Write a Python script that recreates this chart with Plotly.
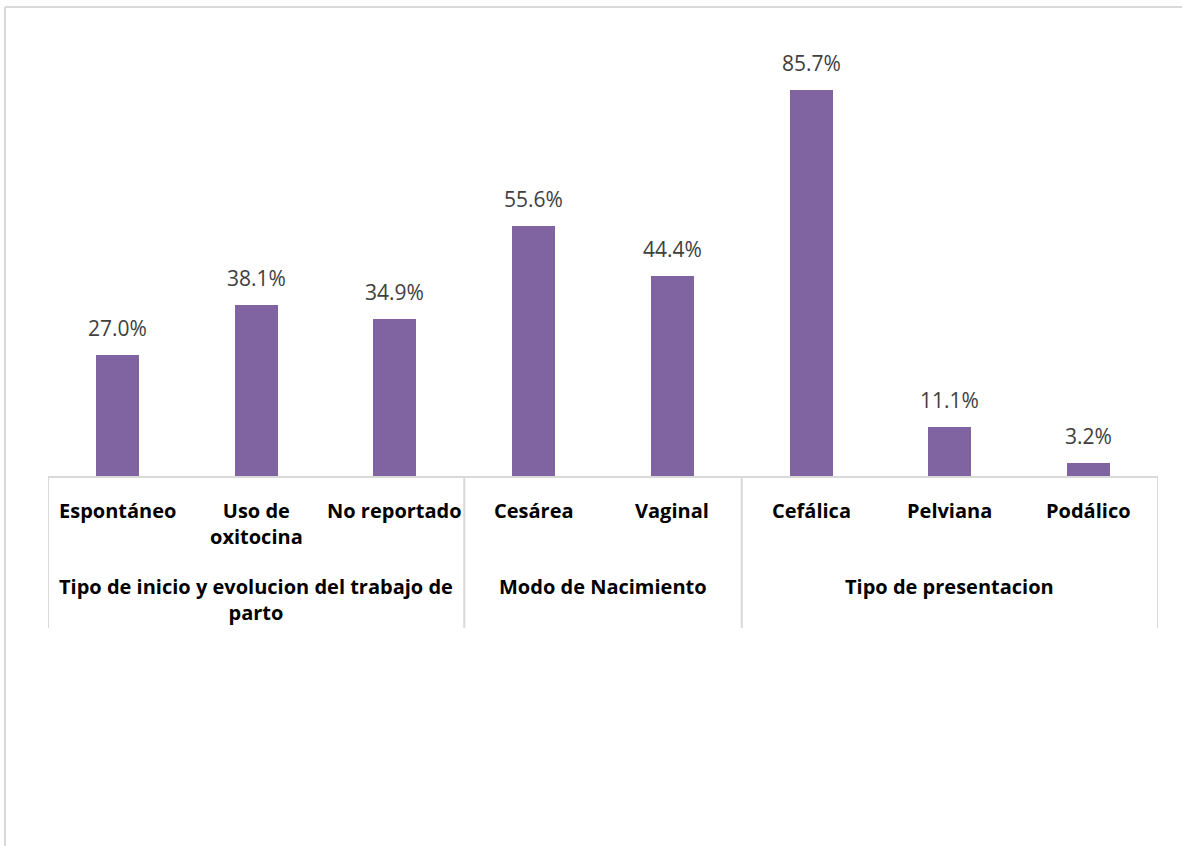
import plotly.graph_objects as go

# Data
categories = ["Espontáneo", "Uso de oxitocina", "No reportado", "Cesárea",
              "Vaginal", "Cefálica", "Pelviana", "Podálico"]
category_labels = ["Espontáneo", "Uso de<br>oxitocina", "No reportado", "Cesárea",
                   "Vaginal", "Cefálica", "Pelviana", "Podálico"]
values = [27.0, 38.1, 34.9, 55.6, 44.4, 85.7, 11.1, 3.2]
groups = ["Tipo de inicio y evolucion del trabajo de<br>parto",
          "Modo de Nacimiento", "Tipo de presentacion"]
group_sizes = [3, 2, 3]

W, H = 1182, 846
L, R, T, B = 48, 24, 25, 369
plot_h = H - T - B
plot_w = W - L - R


def py(pixel_y):
    """Convert a page pixel row into paper y."""
    return (H - B - pixel_y) / plot_h


def px(pixel_x):
    return (pixel_x - L) / plot_w


fig = go.Figure()
fig.add_trace(go.Bar(
    x=list(range(len(categories))),
    y=values,
    width=0.31,
    marker=dict(color="#8064a2", line=dict(width=0)),
    hovertext=categories,
    showlegend=False,
))

annotations = []
# value labels above the bars
for i, v in enumerate(values):
    annotations.append(dict(
        x=i, y=v, xref="x", yref="y", text=f"{v:.1f}%", showarrow=False,
        yanchor="bottom", yshift=11,
        font=dict(family="Open Sans", size=21, color="#404040"),
    ))

# category labels below the axis
for i, lab in enumerate(category_labels):
    annotations.append(dict(
        x=i, y=py(495), xref="x", yref="paper", text=lab, showarrow=False,
        yanchor="top", align="center",
        font=dict(family="Open Sans", size=20, color="#000000", weight="bold"),
    ))

shapes = []
line_col = "#d9d9d9"
# group labels and separators
start = 0
bounds = [-0.5]
for g, n in zip(groups, group_sizes):
    center = start + (n - 1) / 2
    annotations.append(dict(
        x=center, y=py(571), xref="x", yref="paper", text=g, showarrow=False,
        yanchor="top", align="center",
        font=dict(family="Open Sans", size=20, color="#000000", weight="bold"),
    ))
    start += n
    bounds.append(start - 0.5)

for b in bounds:
    shapes.append(dict(type="line", xref="x", yref="paper", x0=b, x1=b,
                       y0=0, y1=py(628), line=dict(color=line_col, width=2)))

# horizontal category axis line
shapes.append(dict(type="line", xref="x", yref="paper", x0=-0.5,
                   x1=len(categories) - 0.5, y0=0, y1=0,
                   line=dict(color=line_col, width=2)))

# chart area frame (top and left edges)
shapes.append(dict(type="line", xref="paper", yref="paper", x0=px(5), x1=px(W + 5),
                   y0=py(7), y1=py(7), line=dict(color=line_col, width=2)))
shapes.append(dict(type="line", xref="paper", yref="paper", x0=px(5), x1=px(5),
                   y0=py(7), y1=py(H + 5), line=dict(color=line_col, width=2)))

fig.update_layout(
    width=W, height=H,
    margin=dict(l=L, r=R, t=T, b=B, pad=0),
    paper_bgcolor="white", plot_bgcolor="white",
    xaxis=dict(range=[-0.5, len(categories) - 0.5], showticklabels=False,
               showgrid=False, zeroline=False, showline=False, ticks=""),
    yaxis=dict(range=[0, 100], showticklabels=False, showgrid=False,
               zeroline=False, showline=False, ticks=""),
    annotations=annotations,
    shapes=shapes,
    bargap=0,
)

fig.write_html("out.html")
